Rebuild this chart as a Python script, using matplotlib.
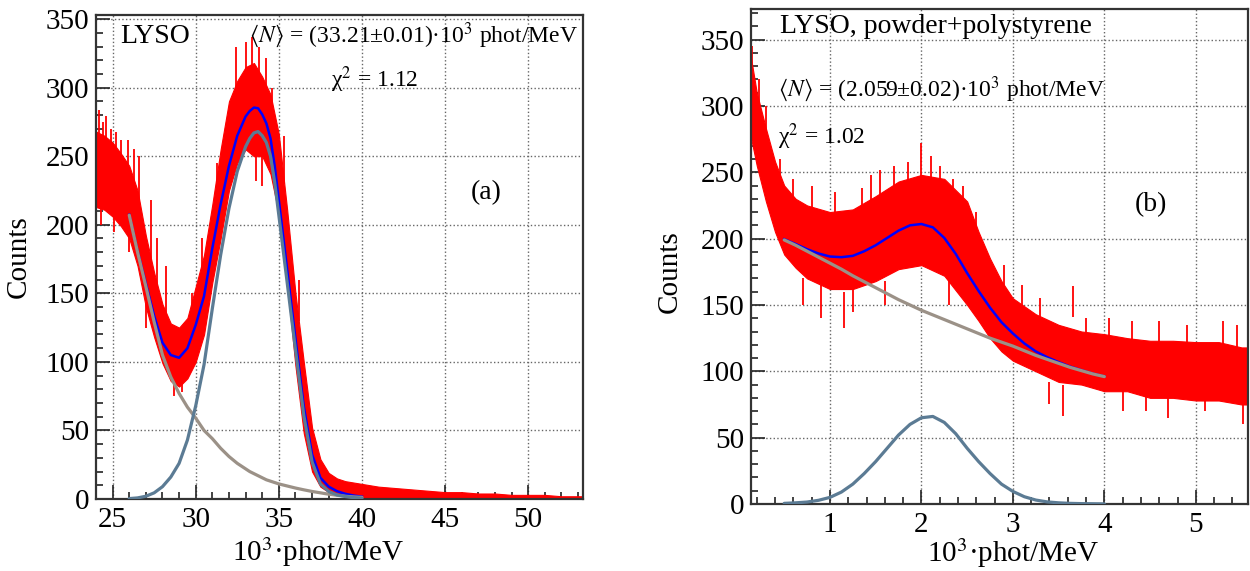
import numpy as np
import matplotlib
matplotlib.use("Agg")
import matplotlib.pyplot as plt
from matplotlib.ticker import MultipleLocator

plt.rcParams['font.family'] = ['Liberation Serif', 'DejaVu Serif']
plt.rcParams['mathtext.fontset'] = 'stix'

# ---- panel (a): LYSO crystal ----
# red histogram, read as lower / upper edge of the noisy band
a_x = [24.0, 24.5, 25.0, 25.5, 26.0, 26.5, 27.0, 27.5, 28.0, 28.5, 29.0, 29.5,
       30.0, 30.5, 31.0, 31.5, 32.0, 32.5, 33.0, 33.5, 34.0, 34.5, 35.0, 35.5,
       36.0, 36.5, 37.0, 37.5, 38.0, 38.5, 39.0, 39.5, 40.0, 41.0, 42.0, 43.0,
       44.0, 45.0, 46.0, 47.0, 48.0, 49.0, 50.0, 51.0, 52.0, 53.3]
a_lo = [213, 211, 206, 199, 190, 170, 140, 118, 99, 86, 82, 88,
        100, 120, 158, 190, 225, 245, 255, 250, 250, 237, 208, 157,
        97, 48, 20, 9, 5, 3, 2, 1, 0, 0, 0, 0,
        0, 0, 0, 0, 0, 0, 0, 0, 0, 0]
a_hi = [268, 265, 260, 252, 243, 225, 192, 165, 142, 128, 125, 132,
        155, 178, 215, 255, 290, 305, 315, 318, 308, 295, 266, 211,
        150, 100, 52, 29, 19, 15, 13, 12, 11, 9, 8, 7,
        6, 5, 5, 4, 4, 3, 3, 3, 2, 2]
# single bins sticking out of the band
a_sp_x = [24.2, 24.4, 24.6, 24.9, 25.2, 25.5, 25.9, 26.3, 26.6, 27.3, 27.7,
          28.2, 28.7, 29.2, 29.8, 30.4, 31.3, 31.8, 32.4, 33.0, 33.4, 33.8,
          34.2, 34.6, 33.6, 34.0, 35.3, 36.2, 24.3, 25.1, 26.0, 27.0]
a_sp_lo = [250, 245, 240, 235, 230, 225, 220, 210, 200, 170, 150,
           110, 75, 78, 120, 140, 200, 230, 280, 290, 300, 295,
           290, 270, 232, 228, 230, 130, 200, 195, 180, 125]
a_sp_hi = [284, 275, 279, 270, 268, 262, 262, 255, 250, 218, 190,
           170, 100, 100, 150, 190, 245, 270, 330, 333, 337, 330,
           322, 300, 255, 250, 265, 160, 215, 210, 195, 142]

# fit curves
fa_x = [26.0, 26.5, 27.0, 27.5, 28.0, 28.5, 29.0, 29.5, 30.0, 30.5, 31.0,
        31.5, 32.0, 32.5, 33.0, 33.25, 33.5, 33.75, 34.0, 34.25, 34.5, 34.75,
        35.0, 35.5, 36.0, 36.5, 37.0, 37.5, 38.0, 38.5, 39.0, 39.5, 40.0]
fa_bkg = [207, 180, 155, 129, 105, 89, 77, 67, 59, 50, 44,
          37, 31, 26, 22, 20, 18.5, 17, 15.5, 14, 13, 12,
          11, 9.5, 8, 6.7, 5.5, 4.5, 3.5, 2.7, 2, 1.5, 1.2]
fa_gaus = [0.3, 0.8, 2, 4.5, 9, 16, 26, 43, 68, 98, 139,
           178, 212, 239, 257, 263, 267, 268, 265, 260, 250, 231,
           207, 158, 109, 61, 27, 11, 5.5, 3, 1.8, 1, 0.5]
fa_tot = [207.3, 180.8, 157, 133.5, 114, 105, 103, 110, 127, 148, 183,
          215, 243, 265, 279, 283, 285.5, 285, 280.5, 274, 263, 243,
          218, 167.5, 117, 67.7, 32.5, 15.5, 9, 5.7, 3.8, 2.5, 1.7]

# ---- panel (b): LYSO powder + polystyrene ----
b_x = [0.14, 0.2, 0.3, 0.4, 0.5, 0.625, 0.75, 1.0, 1.25, 1.5, 1.75, 2.0,
       2.25, 2.5, 2.625, 2.75, 2.875, 3.0, 3.25, 3.5, 3.75, 4.0, 4.25, 4.5,
       4.75, 5.0, 5.25, 5.5, 5.57]
b_lo = [275, 255, 228, 205, 188, 178, 170, 162, 162, 168, 177, 180,
        172, 150, 138, 125, 115, 108, 100, 92, 90, 85, 85, 80,
        80, 78, 78, 75, 75]
b_hi = [335, 310, 283, 258, 240, 230, 225, 220, 222, 232, 243, 248,
        245, 228, 205, 185, 168, 155, 143, 135, 130, 128, 125, 123,
        123, 122, 122, 118, 118]
b_sp_x = [0.15, 0.22, 0.3, 0.45, 0.6, 0.8, 0.9, 1.05, 1.15, 1.35, 1.45,
          1.55, 1.7, 1.85, 2.0, 2.1, 2.2, 2.35, 2.45, 2.6, 2.9, 3.1, 3.3,
          3.55, 3.66, 3.8, 4.05, 4.3, 4.45, 4.6, 4.7, 4.9, 5.1, 5.3, 5.45,
          5.51, 0.7, 1.25, 1.6, 2.3, 3.4, 4.2]
b_sp_lo = [300, 290, 270, 230, 215, 205, 140, 200, 133, 220, 225,
           230, 235, 240, 240, 238, 235, 225, 220, 195, 150, 140, 125,
           66, 141, 120, 120, 118, 70, 118, 65, 115, 70, 118, 115,
           60, 150, 145, 150, 150, 75, 70]
b_sp_hi = [345, 320, 300, 260, 245, 240, 165, 235, 160, 238, 248,
           252, 255, 258, 272, 262, 255, 245, 240, 220, 180, 165, 155,
           90, 164, 140, 140, 138, 85, 138, 80, 135, 85, 138, 135,
           80, 170, 162, 168, 172, 92, 85]

fb_x = [0.5, 0.625, 0.75, 0.875, 1.0, 1.125, 1.25, 1.375, 1.5, 1.625, 1.75,
        1.875, 2.0, 2.125, 2.25, 2.375, 2.5, 2.625, 2.75, 2.875, 3.0, 3.125,
        3.25, 3.375, 3.5, 3.625, 3.75, 3.875, 4.0]
fb_bkg = [199, 195, 190.5, 186, 181.5, 177, 172, 167.5, 163, 158.5, 154,
          150, 146, 142.5, 139, 135.5, 132, 128.5, 125, 122, 119, 115.5,
          112, 109, 106, 103, 100.5, 98, 96]
fb_gaus = [0.5, 0.9, 1.5, 2.8, 5, 9, 15, 23, 32, 42, 52,
           60, 65, 66, 61.5, 53, 42, 32, 23, 15, 9.5, 5.5,
           3, 1.6, 0.9, 0.5, 0.3, 0.2, 0.1]
fb_tot = [199.5, 195.9, 192, 188.8, 186.5, 186, 187, 190.5, 195, 200.5, 206,
          210, 211, 208.5, 200.5, 188.5, 174, 160.5, 148, 137, 128.5, 121,
          115, 110.6, 106.9, 103.5, 100.8, 98.2, 96.1]

RED = '#ff0000'
BLUE = '#0000ff'
BKG = '#9b9187'
GAUS = '#5b7b94'

fig = plt.figure(figsize=(12.5, 5.71), dpi=100)
ax1 = fig.add_axes([0.0768, 0.1261, 0.3896, 0.8476])
ax2 = fig.add_axes([0.6008, 0.1173, 0.3976, 0.8669])


def style(ax, xmaj, xmin):
    ax.set_axisbelow(True)
    ax.grid(True, which='major', ls=':', color='#666666', lw=1.0)
    ax.xaxis.set_major_locator(MultipleLocator(xmaj))
    ax.xaxis.set_minor_locator(MultipleLocator(xmin))
    ax.yaxis.set_major_locator(MultipleLocator(50))
    ax.yaxis.set_minor_locator(MultipleLocator(10))
    ax.tick_params(which='both', direction='in', top=False, right=False,
                   labelsize=21, color='#222222', width=1.2)
    ax.tick_params(which='major', length=10)
    ax.tick_params(which='minor', length=5)
    ax.tick_params(axis='x', pad=6)
    ax.tick_params(axis='y', pad=5)
    for s in ax.spines.values():
        s.set_linewidth(1.6)
        s.set_color('#333333')


def draw(ax, x, lo, hi, sx, slo, shi, fx, tot, bkg, gaus):
    ax.fill_between(x, lo, hi, color=RED, lw=0.8, edgecolor=RED, zorder=2)
    ax.vlines(sx, slo, shi, color=RED, lw=1.3, zorder=2)
    ax.plot(fx, tot, color=BLUE, lw=1.8, zorder=3)
    ax.plot(fx, bkg, color=BKG, lw=2.3, zorder=4, solid_capstyle='round')
    ax.plot(fx, gaus, color=GAUS, lw=2.3, zorder=5, solid_capstyle='round')


draw(ax1, a_x, a_lo, a_hi, a_sp_x, a_sp_lo, a_sp_hi, fa_x, fa_tot, fa_bkg, fa_gaus)
style(ax1, 5, 1)
ax1.set_xlim(24, 53.3)
ax1.set_ylim(0, 353)
ax1.set_ylabel('Counts', fontsize=21)
ax1.yaxis.set_label_coords(-0.131, 0.5)
ax1.set_xlabel('10$^3$·phot/MeV', fontsize=21)
ax1.xaxis.set_label_coords(0.457, -0.076)
ax1.text(0.05, 0.955, 'LYSO', transform=ax1.transAxes, fontsize=20, va='center')
ax1.text(0.315, 0.958, r'$\langle N\rangle$ = (33.21±0.01)·10$^3$ phot/MeV',
         transform=ax1.transAxes, fontsize=17, va='center')
ax1.text(0.482, 0.867, 'χ$^2$ = 1.12', transform=ax1.transAxes, fontsize=17, va='center')
ax1.text(0.77, 0.634, '(a)', transform=ax1.transAxes, fontsize=20, va='center')

draw(ax2, b_x, b_lo, b_hi, b_sp_x, b_sp_lo, b_sp_hi, fb_x, fb_tot, fb_bkg, fb_gaus)
style(ax2, 1, 0.2)
ax2.set_xlim(0.137, 5.57)
ax2.set_ylim(0, 373)
ax2.set_ylabel('Counts', fontsize=21)
ax2.yaxis.set_label_coords(-0.137, 0.47)
ax2.set_xlabel('10$^3$·phot/MeV', fontsize=21)
ax2.xaxis.set_label_coords(0.528, -0.066)
ax2.text(0.058, 0.965, 'LYSO, powder+polystyrene', transform=ax2.transAxes,
         fontsize=20, va='center')
ax2.text(0.055, 0.838, r'$\langle N\rangle$ = (2.059±0.02)·10$^3$ phot/MeV',
         transform=ax2.transAxes, fontsize=17, va='center')
ax2.text(0.055, 0.742, 'χ$^2$ = 1.02', transform=ax2.transAxes, fontsize=17, va='center')
ax2.text(0.772, 0.605, '(b)', transform=ax2.transAxes, fontsize=20, va='center')

fig.savefig('out.png', dpi=100)
